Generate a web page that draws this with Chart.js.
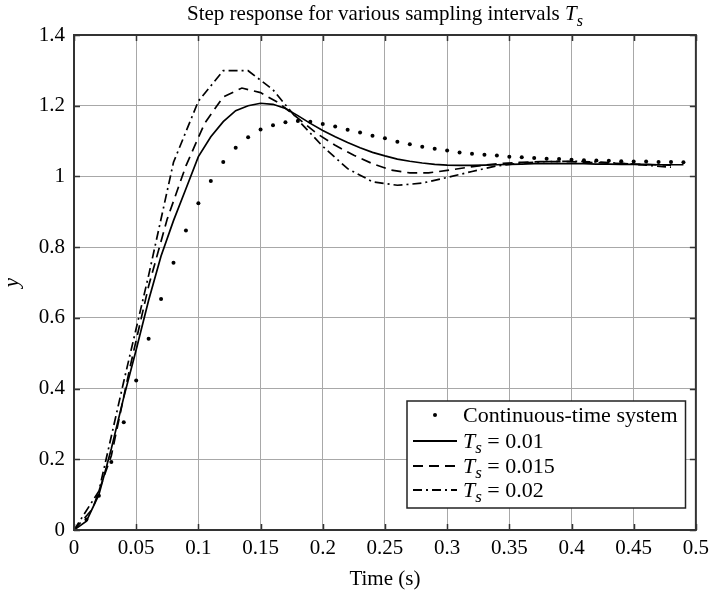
<!DOCTYPE html>
<html>
<head>
<meta charset="utf-8">
<script src="https://cdn.jsdelivr.net/npm/chart.js@4/dist/chart.umd.min.js"></script>
<style>
html,body{margin:0;padding:0;background:#fff;}
#wrap{width:715px;height:596px;}
</style>
</head>
<body>
<div id="wrap"><canvas id="c" width="715" height="596"></canvas></div>
<script>
// ---- data ----
const titleText = "Step response for various sampling intervals ";
const xTitle = "Time (s)";
const yTitle = "y";
const seriesNames = ["Continuous-time system", "0.01", "0.015", "0.02"];

const xTicks = [0, 0.05, 0.1, 0.15, 0.2, 0.25, 0.3, 0.35, 0.4, 0.45, 0.5];
const xTickLabels = ["0", "0.05", "0.1", "0.15", "0.2", "0.25", "0.3", "0.35", "0.4", "0.45", "0.5"];
const yTicks = [0, 0.2, 0.4, 0.6, 0.8, 1, 1.2, 1.4];
const yTickLabels = ["0", "0.2", "0.4", "0.6", "0.8", "1", "1.2", "1.4"];

const tCont = [0,0.01,0.02,0.03,0.04,0.05,0.06,0.07,0.08,0.09,0.10,0.11,0.12,0.13,0.14,0.15,0.16,0.17,0.18,0.19,
  0.20,0.21,0.22,0.23,0.24,0.25,0.26,0.27,0.28,0.29,0.30,0.31,0.32,0.33,0.34,0.35,0.36,0.37,0.38,0.39,
  0.40,0.41,0.42,0.43,0.44,0.45,0.46,0.47,0.48,0.49];
const yCont = [0,0.03,0.097,0.192,0.305,0.423,0.541,0.653,0.756,0.847,0.924,0.987,1.041,1.081,1.111,1.133,1.145,1.153,1.157,1.155,
  1.148,1.141,1.132,1.124,1.115,1.108,1.098,1.091,1.084,1.078,1.073,1.068,1.064,1.061,1.059,1.056,1.054,1.052,1.050,1.049,
  1.047,1.046,1.045,1.044,1.043,1.042,1.042,1.041,1.041,1.040];

const t010 = tCont;
const y010 = [0,0.025,0.1,0.23,0.375,0.51,0.65,0.775,0.875,0.965,1.056,1.112,1.155,1.186,1.2,1.207,1.204,1.192,1.172,1.15,
  1.13,1.112,1.096,1.081,1.068,1.058,1.049,1.043,1.038,1.034,1.032,1.031,1.031,1.032,1.033,1.034,1.035,1.036,1.036,1.036,
  1.036,1.036,1.035,1.035,1.034,1.034,1.034,1.033,1.033,1.033];

const t015 = [0,0.015,0.03,0.045,0.06,0.075,0.09,0.105,0.12,0.135,0.15,0.165,0.18,0.195,0.21,0.225,0.24,0.255,0.27,0.285,
  0.30,0.315,0.33,0.345,0.36,0.375,0.39,0.405,0.42,0.435,0.45,0.465,0.48];
const y015 = [0,0.06,0.21,0.46,0.69,0.88,1.03,1.15,1.225,1.25,1.237,1.207,1.165,1.122,1.088,1.06,1.036,1.018,1.01,1.01,
  1.017,1.025,1.032,1.037,1.04,1.042,1.042,1.041,1.039,1.037,1.035,1.033,1.032];

const t020 = [0,0.02,0.04,0.06,0.08,0.10,0.12,0.14,0.16,0.18,0.20,0.22,0.24,0.26,0.28,0.30,0.32,0.34,0.36,0.38,0.40,0.42,0.44,0.46,0.48];
const y020 = [0,0.11,0.42,0.72,1.04,1.213,1.299,1.299,1.245,1.16,1.085,1.022,0.985,0.975,0.981,0.997,1.014,1.03,1.038,1.042,1.043,1.041,1.037,1.032,1.026];

const pts = (t, y) => t.map((v, i) => ({x: v, y: y[i]}));

const SERIF = '"Liberation Serif", "Times New Roman", serif';
const FS = 21;
const LFS = 22;
const dashSolid = [];
const dashDashed = [10, 6];
const dashDot = [9, 4, 2, 4];

// ---- plugins ----
const framePlugin = {
  id: 'frame',
  afterDraw(chart) {
    const {ctx, chartArea: a, scales: {x, y}} = chart;
    ctx.save();
    ctx.strokeStyle = '#333';
    ctx.lineWidth = 1.5;
    ctx.beginPath();
    xTicks.forEach(v => {
      const px = Math.round(x.getPixelForValue(v)) + 0.5;
      ctx.moveTo(px, a.bottom); ctx.lineTo(px, a.bottom - 6);
      ctx.moveTo(px, a.top); ctx.lineTo(px, a.top + 6);
    });
    yTicks.forEach(v => {
      const py = Math.round(y.getPixelForValue(v)) + 0.5;
      ctx.moveTo(a.left, py); ctx.lineTo(a.left + 6, py);
      ctx.moveTo(a.right, py); ctx.lineTo(a.right - 6, py);
    });
    ctx.stroke();
    ctx.lineWidth = 2;
    ctx.strokeRect(a.left, a.top, a.right - a.left, a.bottom - a.top);
    ctx.restore();
  }
};

function drawTs(ctx, x, y, size, tail) {
  ctx.font = 'italic ' + size + 'px ' + SERIF;
  ctx.fillText('T', x, y);
  x += ctx.measureText('T').width;
  ctx.font = 'italic ' + Math.round(size * 0.78) + 'px ' + SERIF;
  ctx.fillText('s', x, y + size * 0.28);
  x += ctx.measureText('s').width;
  if (tail) {
    ctx.font = size + 'px ' + SERIF;
    ctx.fillText(tail, x, y);
    x += ctx.measureText(tail).width;
  }
  return x;
}
function widthTs(ctx, size, tail) {
  ctx.font = 'italic ' + size + 'px ' + SERIF;
  let w = ctx.measureText('T').width;
  ctx.font = 'italic ' + Math.round(size * 0.78) + 'px ' + SERIF;
  w += ctx.measureText('s').width;
  if (tail) { ctx.font = size + 'px ' + SERIF; w += ctx.measureText(tail).width; }
  return w;
}

const titlePlugin = {
  id: 'ttl',
  afterDraw(chart) {
    const {ctx, chartArea: a} = chart;
    const size = FS;
    ctx.save();
    ctx.fillStyle = '#000';
    ctx.textBaseline = 'alphabetic';
    ctx.textAlign = 'left';
    ctx.font = size + 'px ' + SERIF;
    const w1 = ctx.measureText(titleText).width;
    const w = w1 + widthTs(ctx, size, '');
    const x0 = (a.left + a.right) / 2 - w / 2;
    ctx.font = size + 'px ' + SERIF;
    ctx.fillText(titleText, x0, 20);
    drawTs(ctx, x0 + w1, 20, size, '');
    ctx.restore();
  }
};

const legendPlugin = {
  id: 'lgd',
  afterDraw(chart) {
    const {ctx} = chart;
    const size = LFS;
    const left = 407, top = 401, bottom = 508;
    const rows = [415, 441, 466, 490];
    ctx.save();
    ctx.font = size + 'px ' + SERIF;
    let tw = ctx.measureText(seriesNames[0]).width;
    for (let i = 1; i < 4; i++) tw = Math.max(tw, widthTs(ctx, size, ' = ' + seriesNames[i]));
    const right = 463 + tw + 8;
    ctx.fillStyle = '#fff';
    ctx.fillRect(left, top, right - left, bottom - top);
    ctx.strokeStyle = '#222';
    ctx.lineWidth = 1.5;
    ctx.strokeRect(left, top, right - left, bottom - top);
    const dashes = [null, dashSolid, dashDashed, dashDot];
    for (let i = 0; i < 4; i++) {
      const ry = rows[i];
      ctx.strokeStyle = '#000';
      ctx.fillStyle = '#000';
      if (i === 0) {
        ctx.beginPath(); ctx.arc(435, ry, 2, 0, Math.PI * 2); ctx.fill();
      } else {
        ctx.setLineDash(dashes[i]);
        ctx.lineWidth = 1.8;
        ctx.beginPath(); ctx.moveTo(413, ry); ctx.lineTo(457, ry); ctx.stroke();
        ctx.setLineDash([]);
      }
      ctx.textBaseline = 'middle';
      ctx.textAlign = 'left';
      if (i === 0) {
        ctx.font = size + 'px ' + SERIF;
        ctx.fillText(seriesNames[0], 463, ry + 1);
      } else {
        drawTs(ctx, 463, ry + 1, size, ' = ' + seriesNames[i]);
      }
    }
    ctx.restore();
  }
};

// ---- chart ----
const lineDS = (label, data, dash) => ({
  label, data, type: 'line', showLine: true, borderColor: '#000', borderWidth: 1.7,
  borderDash: dash, pointRadius: 0, fill: false, tension: 0
});

new Chart(document.getElementById('c'), {
  type: 'scatter',
  data: {
    datasets: [
      {label: seriesNames[0], data: pts(tCont, yCont), showLine: false, pointRadius: 2,
       pointBackgroundColor: '#000', pointBorderWidth: 0, pointStyle: 'circle'},
      lineDS('Ts = ' + seriesNames[1], pts(t010, y010), dashSolid),
      lineDS('Ts = ' + seriesNames[2], pts(t015, y015), dashDashed),
      lineDS('Ts = ' + seriesNames[3], pts(t020, y020), dashDot)
    ]
  },
  options: {
    responsive: false,
    animation: false,
    layout: {padding: {left: 0, right: 15, top: 35, bottom: 0}},
    plugins: {legend: {display: false}, title: {display: false}, tooltip: {enabled: false}},
    scales: {
      x: {
        type: 'linear', min: 0, max: 0.5,
        afterBuildTicks: s => { s.ticks = xTicks.map(v => ({value: v})); },
        afterFit: s => { s.height = 66; },
        ticks: {
          callback: (v) => { const i = xTicks.findIndex(t => Math.abs(t - v) < 1e-9); return i >= 0 ? xTickLabels[i] : ''; },
          color: '#000', font: {family: SERIF, size: FS}, padding: 6, maxRotation: 0, autoSkip: false
        },
        grid: {color: '#a8a8a8', lineWidth: 1, drawTicks: false},
        border: {display: true, color: '#333', width: 2},
        title: {display: true, text: xTitle, color: '#000', font: {family: SERIF, size: FS}, padding: {top: 0, bottom: 4}}
      },
      y: {
        type: 'linear', min: 0, max: 1.4,
        afterBuildTicks: s => { s.ticks = yTicks.map(v => ({value: v})); },
        afterFit: s => { s.width = 74; },
        ticks: {
          callback: (v) => { const i = yTicks.findIndex(t => Math.abs(t - v) < 1e-9); return i >= 0 ? yTickLabels[i] : ''; },
          color: '#000', font: {family: SERIF, size: FS}, padding: 9, autoSkip: false
        },
        grid: {color: '#a8a8a8', lineWidth: 1, drawTicks: false},
        border: {display: true, color: '#333', width: 2},
        title: {display: true, text: yTitle, color: '#000', font: {family: SERIF, size: FS, style: 'italic'}, padding: {top: 0, bottom: 0}}
      }
    }
  },
  plugins: [framePlugin, titlePlugin, legendPlugin]
});
</script>
</body>
</html>
